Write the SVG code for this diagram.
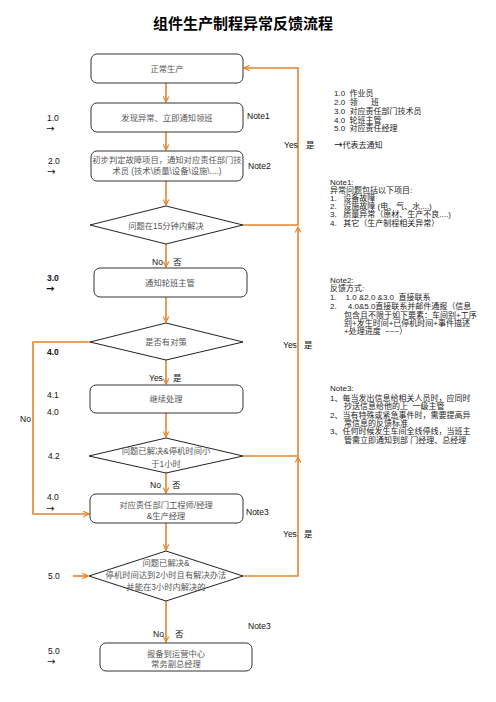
<svg xmlns="http://www.w3.org/2000/svg" width="496" height="702" viewBox="0 0 496 702" xml:space="preserve">
<defs>
<marker id="ah" viewBox="0 0 10 10" refX="9" refY="5" markerWidth="7" markerHeight="7" orient="auto" markerUnits="userSpaceOnUse">
<path d="M1,1 L9,5 L1,9" fill="none" stroke="#E8822A" stroke-width="1.6"/>
</marker>
</defs>
<style>
text{font-family:"Liberation Sans","Noto Sans CJK SC",sans-serif;white-space:pre;}
.title{font-size:15px;font-weight:bold;fill:#000;}
.box{fill:#fff;stroke:#333;stroke-width:1;}
.dia{fill:#fff;stroke:#222;stroke-width:1;}
.nt{font-size:8.3px;fill:#555;text-anchor:middle;}
.lbl{font-size:8.5px;fill:#111;}
.arr{font-family:"DejaVu Sans",sans-serif;font-size:10px;fill:#111;}
.b{font-weight:bold;}
.note{font-size:8px;fill:#222;}
.con{fill:none;stroke:#E8822A;stroke-width:1.6;}
</style>
<rect width="496" height="702" fill="#fff"/>
<text class="title" x="243" y="29" text-anchor="middle">组件生产制程异常反馈流程</text>

<g id="connectors">
<path class="con" d="M166,83 V102" marker-end="url(#ah)"/>
<path class="con" d="M166,132 V150" marker-end="url(#ah)"/>
<path class="con" d="M166,181 V205" marker-end="url(#ah)"/>
<path class="con" d="M166,244 V267" marker-end="url(#ah)"/>
<path class="con" d="M166,297 V322" marker-end="url(#ah)"/>
<path class="con" d="M166,360 V384" marker-end="url(#ah)"/>
<path class="con" d="M166,413 V437" marker-end="url(#ah)"/>
<path class="con" d="M166,473 V493" marker-end="url(#ah)"/>
<path class="con" d="M166,523 V550" marker-end="url(#ah)"/>
<path class="con" d="M166,601 V642" marker-end="url(#ah)"/>
<path class="con" d="M243,225 H298 V68 H244" marker-end="url(#ah)"/>
<path class="con" d="M243,456 H298 V227" marker-end="url(#ah)"/>
<path class="con" d="M243,576 H298 V457" marker-end="url(#ah)"/>
<path class="con" d="M90,342 H33 V514 H89" marker-end="url(#ah)"/>
<path class="con" d="M73,576 H88" marker-end="url(#ah)"/>
</g>

<g id="n1"><rect class="box" x="91" y="54" width="152" height="29" rx="6" stroke="#555"/><text class="nt" x="167" y="72">正常生产</text></g>
<g id="n2"><rect class="box" x="91" y="103" width="152" height="29" rx="6"/><text class="nt" x="167" y="121">发现异常、立即通知领班</text></g>
<g id="n3"><rect class="box" x="91" y="151" width="152" height="30" rx="6"/><text class="nt" x="167" y="163">初步判定故障项目，通知对应责任部门技</text><text class="nt" x="167" y="174">术员 (技术\质量\设备\设施\....)</text></g>
<g id="d1"><polygon class="dia" points="166,206 243,225 166,244 90,225"/><text class="nt" x="166" y="229">问题在15分钟内解决</text></g>
<g id="n4"><rect class="box" x="94" y="268" width="153" height="29" rx="6"/><text class="nt" x="170" y="286">通知轮班主管</text></g>
<g id="d2"><polygon class="dia" points="166,323 243,342 166,360 90,342"/><text class="nt" x="166" y="345">是否有对策</text></g>
<g id="n5"><rect class="box" x="90" y="385" width="153" height="28" rx="6"/><text class="nt" x="166" y="402">继续处理</text></g>
<g id="d3"><polygon class="dia" points="166,438 243,456 166,473 89,456"/><text class="nt" x="166" y="454">问题已解决&amp;停机时间小</text><text class="nt" x="166" y="467">于1小时</text></g>
<g id="n6"><rect class="box" x="90" y="494" width="153" height="29" rx="6"/><text class="nt" x="166" y="508">对应责任部门工程师/经理</text><text class="nt" x="166" y="519">&amp;生产经理</text></g>
<g id="d4"><polygon class="dia" points="166,551 243,576 166,601 89,576"/><text class="nt" x="166" y="566">问题已解决&amp;</text><text class="nt" x="166" y="578">停机时间达到2小时且有解决办法</text><text class="nt" x="166" y="590">并能在3小时内解决的</text></g>
<g id="n7"><rect class="box" x="100" y="643" width="152" height="28" rx="6"/><text class="nt" x="176" y="657">报备到运营中心</text><text class="nt" x="176" y="667">常务副总经理</text></g>

<g id="labels">
<text class="lbl" x="47" y="121">1.0</text><text class="arr" x="46" y="132">→</text>
<text class="lbl" x="48" y="164">2.0</text><text class="arr" x="47" y="175">→</text>
<text class="lbl b" x="47" y="281">3.0</text><text class="arr b" x="46" y="292">→</text>
<text class="lbl b" x="47" y="355">4.0</text>
<text class="lbl" x="47" y="398">4.1</text>
<text class="lbl" x="47" y="415">4.0</text>
<text class="lbl" x="48" y="459">4.2</text>
<text class="lbl" x="47" y="500">4.0</text><text class="arr" x="46" y="512">→</text>
<text class="lbl" x="48" y="579">5.0</text>
<text class="lbl" x="48" y="654">5.0</text><text class="arr" x="47" y="665">→</text>
<text class="lbl" x="20" y="422">No</text>
<text class="lbl" x="152" y="265">No</text><text class="lbl" x="173" y="265">否</text>
<text class="lbl" x="149" y="381">Yes</text><text class="lbl" x="173" y="381">是</text>
<text class="lbl" x="150" y="488">No</text><text class="lbl" x="172" y="488">否</text>
<text class="lbl" x="153" y="637">No</text><text class="lbl" x="175" y="637">否</text>
<text class="lbl" x="284" y="148">Yes</text><text class="lbl" x="306" y="148">是</text>
<text class="lbl" x="283" y="348">Yes</text><text class="lbl" x="304" y="348">是</text>
<text class="lbl" x="283" y="537">Yes</text><text class="lbl" x="304" y="537">是</text>
<text class="lbl" x="247" y="119">Note1</text>
<text class="lbl" x="248" y="169">Note2</text>
<text class="lbl" x="246" y="515">Note3</text>
<text class="lbl" x="248" y="629">Note3</text>
</g>

<g id="legend">
<text class="note" x="334" y="96">1.0  作业员</text>
<text class="note" x="334" y="105">2.0  领      班</text>
<text class="note" x="334" y="114">3.0  对应责任部门技术员</text>
<text class="note" x="334" y="123">4.0  轮班主管</text>
<text class="note" x="334" y="131">5.0  对应责任经理</text>
<text class="note" x="334" y="148"><tspan class="arr">→</tspan>代表去通知</text>
</g>
<g id="note1">
<text class="note" x="330" y="185">Note1:</text>
<text class="note" x="330" y="193">异常问题包括以下项目:</text>
<text class="note" x="330" y="201">1.   设备故障</text>
<text class="note" x="330" y="209">2.   设施故障 (电、气、水,...)</text>
<text class="note" x="330" y="217">3.   质量异常（原材、生产不良....)</text>
<text class="note" x="330" y="226">4.   其它（生产制程相关异常）</text>
</g>
<g id="note2">
<text class="note" x="330" y="283">Note2:</text>
<text class="note" x="330" y="291">反馈方式:</text>
<text class="note" x="330" y="300">1.    1.0 &amp;2.0 &amp;3.0  直接联系</text>
<text class="note" x="330" y="309">2.     4.0&amp;5.0直接联系并邮件通报（信息</text>
<text class="note" x="344" y="318">包含且不限于如下要素：车间别+工序</text>
<text class="note" x="344" y="326">别+发生时间+已停机时间+事件描述</text>
<text class="note" x="344" y="334">+处理进度  ~~~）</text>
</g>
<g id="note3">
<text class="note" x="330" y="391">Note3:</text>
<text class="note" x="330" y="401">1、每当发出信息给相关人员时，应同时</text>
<text class="note" x="344" y="409">抄送信息给他的上  一级主管</text>
<text class="note" x="330" y="418">2、当有特殊或紧急事件时，需要提高异</text>
<text class="note" x="344" y="426">常信息的反馈标准</text>
<text class="note" x="330" y="434">3、任何时候发生车间全线停线，当班主</text>
<text class="note" x="344" y="443">管需立即通知到部 门经理、总经理</text>
</g>
</svg>
